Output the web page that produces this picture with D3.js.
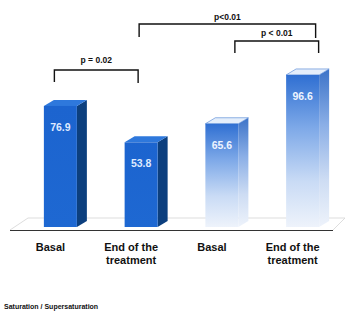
<!DOCTYPE html>
<html>
  <head>
    <meta charset="utf-8">
    <title>Saturation / Supersaturation</title>
    <style>
      body { margin: 0; background: #fff; }
      text { font-family: "Liberation Sans", Arial, sans-serif; }
    </style>
  </head>
  <body>
    <div id="chart"></div>
    <script src="https://cdn.jsdelivr.net/npm/d3@7"></script>
    <script>
      // data
      var categories = ['Basal', 'End of the treatment', 'Basal', 'End of the treatment'];
      var values = [76.9, 53.8, 65.6, 96.6];
      var valueLabels = ['76.9', '53.8', '65.6', '96.6'];
      var groups = ['solid', 'solid', 'fade', 'fade'];
      var pairs = [[0, 1], [1, 3], [2, 3]];
      var pLabels = ['p = 0.02', 'p<0.01', 'p < 0.01'];
      var footnote = 'Saturation / Supersaturation';

      var width = 348, height = 311;
      var depthX = 10, depthY = 6, barW = 33;

      // bracket layout: offsets from bar centre, top y, leg ends, label baseline
      var bracketLayout = [
        {dx1: -6, dx2: -3, top: 70, leg1: 82, leg2: 83, ty: 63},
        {dx1: -2, dx2: 13, top: 24, leg1: 37, leg2: 38, ty: 20},
        {dx1: 13, dx2: 16, top: 41, leg1: 53, leg2: 53, ty: 36}
      ];

      var svg = d3.select('#chart').append('svg')
        .attr('width', width).attr('height', height);

      var defs = svg.append('defs');
      function grad(id, stops) {
        var g = defs.append('linearGradient').attr('id', id)
          .attr('x1', 0).attr('y1', 0).attr('x2', 0).attr('y2', 1);
        stops.forEach(function(s) {
          g.append('stop').attr('offset', s[0]).attr('stop-color', s[1]);
        });
      }
      grad('fadeFront', [[0, '#2f6fd2'], [0.35, '#7ea9e8'], [0.7, '#c9dbf5'], [1, '#eef3fb']]);
      grad('fadeSide', [[0, '#3c73c8'], [0.35, '#8aaee6'], [0.7, '#cddcf3'], [1, '#eef3fb']]);
      grad('solidFront', [[0, '#1c64cf'], [1, '#1e68d2']]);

      var colors = {
        solid: {front: 'url(#solidFront)', side: '#0c3f7e', top: '#2e78dc'},
        fade: {front: 'url(#fadeFront)', side: 'url(#fadeSide)', top: '#e4eefb'}
      };

      var x = d3.scaleBand().domain(d3.range(categories.length)).range([10, 333]);
      var y = d3.scaleLinear().domain([0, 100]).range([227, 69.6]);

      function cx(i) { return x(i) + x.bandwidth() / 2 + 10; }

      // floor
      var floor = svg.append('g');
      floor.append('path')
        .attr('d', 'M10,230 L28,218 L345,218 L333,230')
        .attr('fill', 'none').attr('stroke', '#d4d4d4').attr('stroke-width', 0.8);
      floor.append('line')
        .attr('x1', 10).attr('x2', 333).attr('y1', 230.5).attr('y2', 230.5)
        .attr('stroke', '#333').attr('stroke-width', 1);

      // bars
      var bars = svg.selectAll('.bar').data(values).enter().append('g').attr('class', 'bar');

      bars.append('path') // side
        .attr('d', function(d, i) {
          var x1 = cx(i) + barW / 2, t = y(d), b = y(0);
          return 'M' + x1 + ',' + t + ' L' + (x1 + depthX) + ',' + (t - depthY) +
            ' L' + (x1 + depthX) + ',' + (b - depthY) + ' L' + x1 + ',' + b + 'Z';
        })
        .attr('fill', function(d, i) { return colors[groups[i]].side; });

      bars.append('path') // top
        .attr('d', function(d, i) {
          var x0 = cx(i) - barW / 2, x1 = cx(i) + barW / 2, t = y(d);
          return 'M' + x0 + ',' + t + ' L' + (x0 + depthX) + ',' + (t - depthY) +
            ' L' + (x1 + depthX) + ',' + (t - depthY) + ' L' + x1 + ',' + t + 'Z';
        })
        .attr('fill', function(d, i) { return colors[groups[i]].top; })
        .attr('stroke', function(d, i) { return groups[i] === 'fade' ? '#4a80d4' : 'none'; })
        .attr('stroke-width', 0.6);

      bars.append('rect') // front
        .attr('x', function(d, i) { return cx(i) - barW / 2; })
        .attr('y', function(d) { return y(d); })
        .attr('width', barW)
        .attr('height', function(d) { return y(0) - y(d); })
        .attr('fill', function(d, i) { return colors[groups[i]].front; });

      bars.append('text')
        .attr('x', function(d, i) { return cx(i); })
        .attr('y', function(d) { return y(d) + 25; })
        .attr('text-anchor', 'middle')
        .attr('font-size', 10.5).attr('font-weight', 'bold')
        .attr('fill', function(d, i) { return groups[i] === 'fade' ? '#eef4ff' : '#dfeaff'; })
        .text(function(d, i) { return valueLabels[i]; });

      // category labels
      var cats = svg.selectAll('.cat').data(categories).enter().append('text')
        .attr('class', 'cat')
        .attr('text-anchor', 'middle')
        .attr('font-size', 11).attr('font-weight', 'bold').attr('fill', '#111')
        .attr('transform', function(d, i) {
          return 'translate(' + (x(i) + x.bandwidth() / 2) + ',251)';
        });
      cats.each(function(d) {
        var t = d3.select(this);
        var words = d === 'End of the treatment' ? ['End of the', 'treatment'] : [d];
        words.forEach(function(w, k) {
          t.append('tspan').attr('x', 0).attr('dy', k === 0 ? 0 : 13).text(w);
        });
      });

      // significance brackets
      var br = svg.selectAll('.bracket').data(pairs).enter().append('g').attr('class', 'bracket');
      br.append('path')
        .attr('d', function(p, k) {
          var L = bracketLayout[k];
          var xa = cx(p[0]) + L.dx1, xb = cx(p[1]) + L.dx2;
          return 'M' + xa + ',' + L.leg1 + ' L' + xa + ',' + L.top +
            ' L' + xb + ',' + L.top + ' L' + xb + ',' + L.leg2;
        })
        .attr('fill', 'none').attr('stroke', '#111').attr('stroke-width', 1.4);
      br.append('text')
        .attr('x', function(p, k) {
          var L = bracketLayout[k];
          return (cx(p[0]) + L.dx1 + cx(p[1]) + L.dx2) / 2;
        })
        .attr('y', function(p, k) { return bracketLayout[k].ty; })
        .attr('text-anchor', 'middle')
        .attr('font-size', 8.5).attr('font-weight', 'bold').attr('fill', '#111')
        .text(function(p, k) { return pLabels[k]; });

      svg.append('text')
        .attr('x', 4).attr('y', 309)
        .attr('font-size', 7).attr('font-weight', 'bold').attr('fill', '#111')
        .text(footnote);
    </script>
  </body>
</html>
